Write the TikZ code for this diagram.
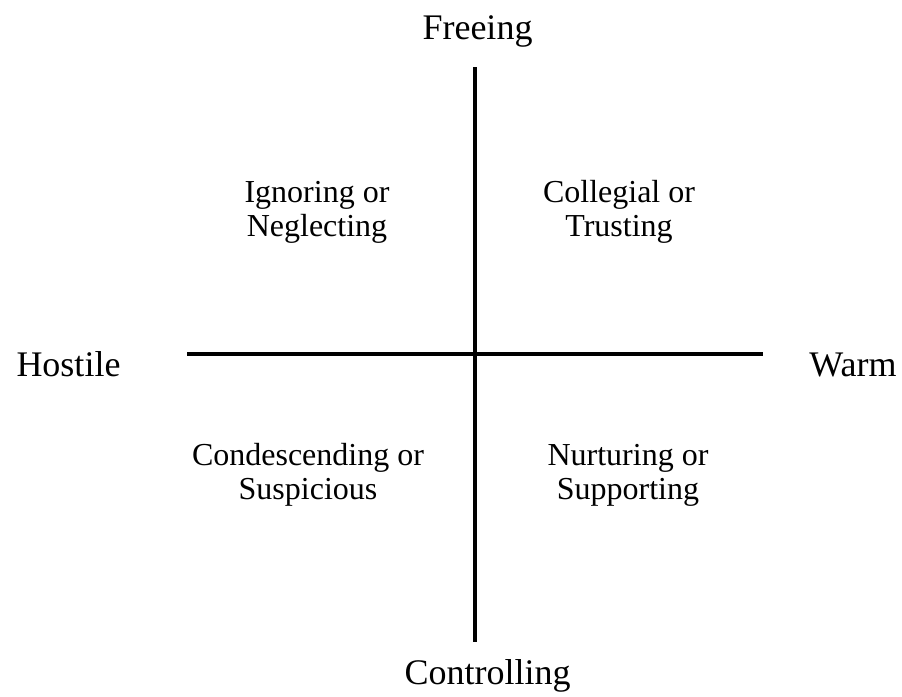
\documentclass[tikz,border=0pt]{standalone}
\usepackage{fontspec}
\setmainfont{Liberation Serif}
\usepackage{tikz}
\usetikzlibrary{positioning}

\begin{document}
\begin{tikzpicture}[
  x=1pt, y=-1pt,
  axislbl/.style={anchor=base, inner sep=0pt, font=\fontsize{36}{40}\selectfont},
  quad/.style={align=center, inner sep=0pt, font=\fontsize{32}{34}\selectfont},
  axis/.style={line width=4pt, draw=black}]
\useasboundingbox (0,0) rectangle (902,696);
% axes ends
\coordinate (top) at (475,67);
\coordinate (bot) at (475,642);
\coordinate (lft) at (187,354);
\coordinate (rgt) at (763,354);
\draw[axis] (top) -- (bot);
\draw[axis] (lft) -- (rgt);
% axis labels
\node[axislbl] (free) at (477.5,39) {Freeing};
\node[axislbl] (ctrl) at (487.5,684) {Controlling};
\node[axislbl] (host) at (68.5,376) {Hostile};
\node[axislbl] (warm) at (853,376) {Warm};
% quadrants
\node[quad] (ign) at (317,212) {Ignoring or\\Neglecting};
\node[quad] (col) at (619,212) {Collegial or\\Trusting};
\node[quad] (con) at (308,475) {Condescending or\\Suspicious};
\node[quad] (nur) at (628,475) {Nurturing or\\Supporting};
\end{tikzpicture}
\end{document}
